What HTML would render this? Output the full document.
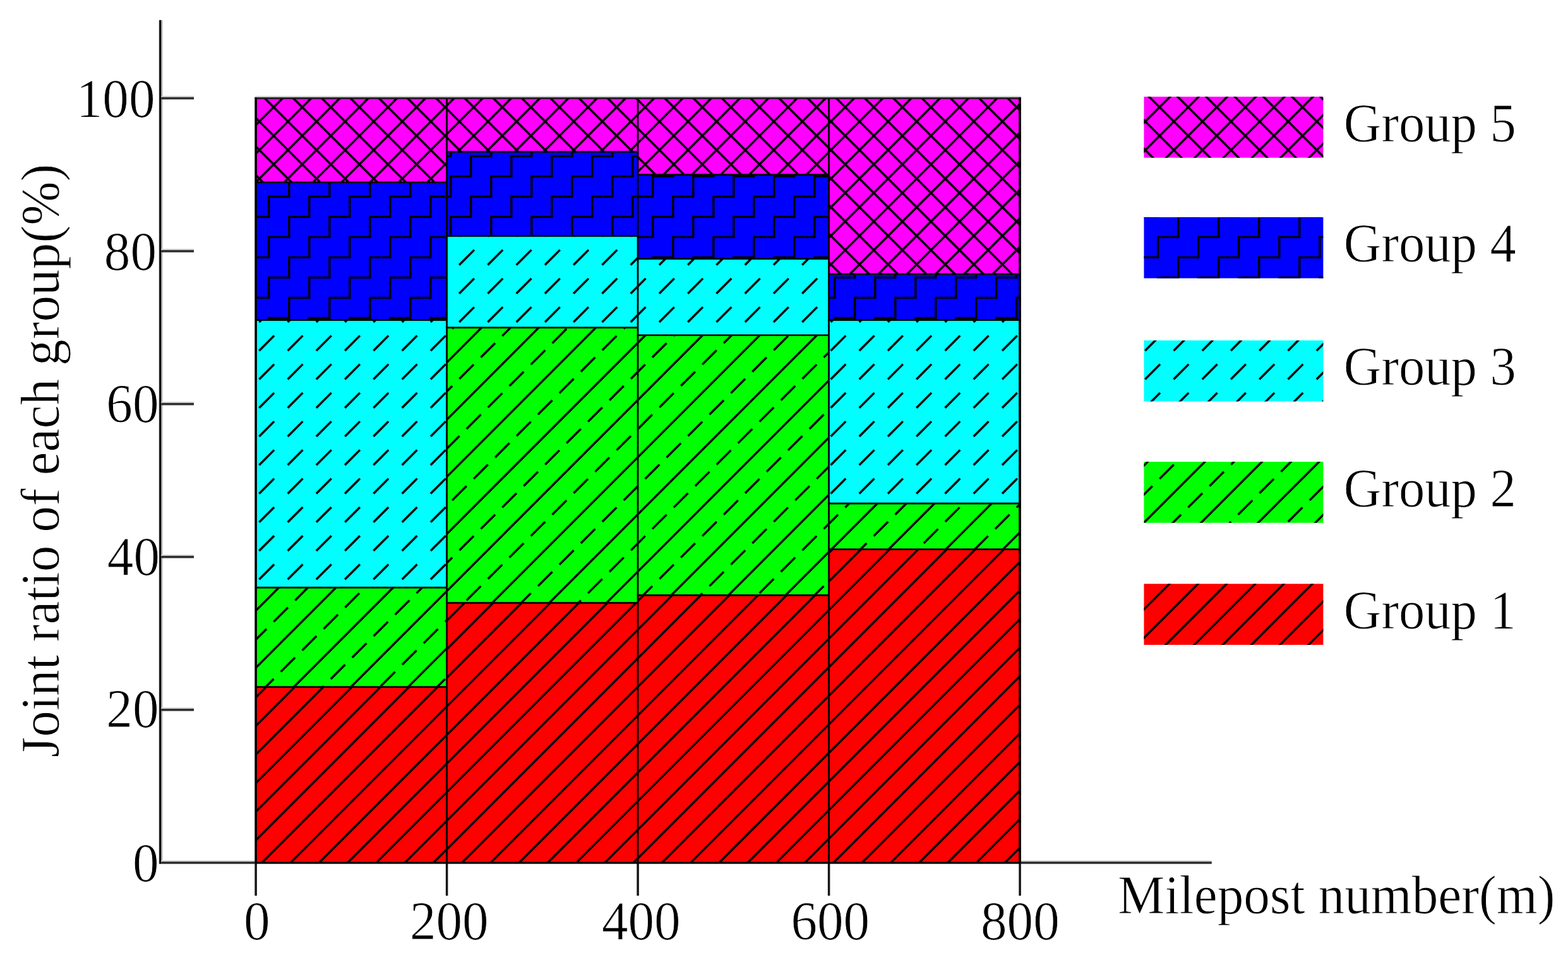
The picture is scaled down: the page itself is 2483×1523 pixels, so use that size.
<!DOCTYPE html>
<html lang="en">
<head>
<meta charset="utf-8">
<title>Joint ratio of each group</title>
<style>
html,body{margin:0;padding:0;background:#fff;}
body{width:2483px;height:1523px;overflow:hidden;}
svg{display:block;filter:blur(0.55px);}
text{font-family:"Liberation Serif", "DejaVu Serif", serif;stroke:#fff;stroke-width:0.9px;stroke-linejoin:round;}
</style>
</head>
<body>
<svg xmlns="http://www.w3.org/2000/svg" width="2483" height="1523" viewBox="0 0 2483 1523" font-family='"Liberation Serif", "DejaVu Serif", serif' fill="#000">
<rect width="2483" height="1523" fill="#fff"/>
<rect x="251.1" y="31.8" width="1.3" height="1335.9" fill="#d8d8d8"/>
<rect x="252.2" y="31.8" width="3.0" height="1335.9" fill="#000"/>
<rect x="255.2" y="31.8" width="2.0" height="1332.3" fill="#999"/>
<rect x="255.2" y="1362.1" width="1663.6" height="2" fill="#d2d2d2"/><rect x="255.2" y="1364.1" width="1663.6" height="3.6" fill="#2e2e2e"/>
<rect x="255.2" y="1120.04" width="51.8" height="2" fill="#d2d2d2"/><rect x="255.2" y="1122.04" width="51.8" height="3.6" fill="#2e2e2e"/>
<rect x="255.2" y="877.98" width="51.8" height="2" fill="#d2d2d2"/><rect x="255.2" y="879.98" width="51.8" height="3.6" fill="#2e2e2e"/>
<rect x="255.2" y="635.92" width="51.8" height="2" fill="#d2d2d2"/><rect x="255.2" y="637.92" width="51.8" height="3.6" fill="#2e2e2e"/>
<rect x="255.2" y="393.86" width="51.8" height="2" fill="#d2d2d2"/><rect x="255.2" y="395.86" width="51.8" height="3.6" fill="#2e2e2e"/>
<rect x="255.2" y="151.8" width="51.8" height="2" fill="#d2d2d2"/><rect x="255.2" y="153.8" width="51.8" height="3.6" fill="#2e2e2e"/>
<rect x="403.35" y="1366.8" width="3.5" height="51.2" fill="#151515"/>
<rect x="705.85" y="1366.8" width="3.5" height="51.2" fill="#151515"/>
<rect x="1008.35" y="1366.8" width="3.5" height="51.2" fill="#151515"/>
<rect x="1310.85" y="1366.8" width="3.5" height="51.2" fill="#151515"/>
<rect x="1613.35" y="1366.8" width="3.5" height="51.2" fill="#151515"/>
<clipPath id="c1"><rect x="405.1" y="1087.43" width="302.5" height="278.37"/></clipPath>
<rect x="405.1" y="1087.43" width="302.5" height="278.37" fill="#ff0000"/>
<g clip-path="url(#c1)" stroke="#000" stroke-width="3.4" fill="none">
<line x1="385.1" y1="1033.44" x2="727.6" y2="690.94"/>
<line x1="385.1" y1="1078.7" x2="727.6" y2="736.2"/>
<line x1="385.1" y1="1123.95" x2="727.6" y2="781.45"/>
<line x1="385.1" y1="1169.21" x2="727.6" y2="826.71"/>
<line x1="385.1" y1="1214.46" x2="727.6" y2="871.96"/>
<line x1="385.1" y1="1259.72" x2="727.6" y2="917.22"/>
<line x1="385.1" y1="1304.97" x2="727.6" y2="962.47"/>
<line x1="385.1" y1="1350.23" x2="727.6" y2="1007.73"/>
<line x1="385.1" y1="1395.48" x2="727.6" y2="1052.98"/>
<line x1="385.1" y1="1440.74" x2="727.6" y2="1098.24"/>
<line x1="385.1" y1="1485.99" x2="727.6" y2="1143.49"/>
<line x1="385.1" y1="1531.25" x2="727.6" y2="1188.75"/>
<line x1="385.1" y1="1576.5" x2="727.6" y2="1234"/>
<line x1="385.1" y1="1621.75" x2="727.6" y2="1279.25"/>
<line x1="385.1" y1="1667.01" x2="727.6" y2="1324.51"/>
<line x1="385.1" y1="1712.26" x2="727.6" y2="1369.76"/>
<line x1="385.1" y1="1757.52" x2="727.6" y2="1415.02"/>
</g>
<rect x="405.1" y="1087.43" width="302.5" height="278.37" fill="none" stroke="#000" stroke-width="2.6"/>
<clipPath id="c2"><rect x="405.1" y="930.09" width="302.5" height="157.34"/></clipPath>
<rect x="405.1" y="930.09" width="302.5" height="157.34" fill="#00ff00"/>
<g clip-path="url(#c2)" stroke="#000" stroke-width="3.4" fill="none">
<line x1="385.1" y1="805.68" x2="727.6" y2="463.18"/>
<line x1="385.1" y1="896.19" x2="727.6" y2="553.69"/>
<line x1="385.1" y1="986.7" x2="727.6" y2="644.2"/>
<line x1="385.1" y1="1077.21" x2="727.6" y2="734.71"/>
<line x1="385.1" y1="1167.72" x2="727.6" y2="825.22"/>
<line x1="385.1" y1="1258.23" x2="727.6" y2="915.73"/>
<line x1="385.1" y1="1348.74" x2="727.6" y2="1006.24"/>
<line x1="385.1" y1="1439.25" x2="727.6" y2="1096.75"/>
<line x1="385.1" y1="1529.76" x2="727.6" y2="1187.26"/>
<line x1="385.1" y1="851.64" x2="727.6" y2="509.14" stroke-dasharray="32 16" stroke-dashoffset="11.79"/>
<line x1="385.1" y1="942.15" x2="727.6" y2="599.65" stroke-dasharray="32 16" stroke-dashoffset="43.79"/>
<line x1="385.1" y1="1032.65" x2="727.6" y2="690.15" stroke-dasharray="32 16" stroke-dashoffset="27.79"/>
<line x1="385.1" y1="1123.16" x2="727.6" y2="780.66" stroke-dasharray="32 16" stroke-dashoffset="11.79"/>
<line x1="385.1" y1="1213.67" x2="727.6" y2="871.17" stroke-dasharray="32 16" stroke-dashoffset="43.79"/>
<line x1="385.1" y1="1304.18" x2="727.6" y2="961.68" stroke-dasharray="32 16" stroke-dashoffset="27.79"/>
<line x1="385.1" y1="1394.69" x2="727.6" y2="1052.19" stroke-dasharray="32 16" stroke-dashoffset="11.79"/>
<line x1="385.1" y1="1485.2" x2="727.6" y2="1142.7" stroke-dasharray="32 16" stroke-dashoffset="43.79"/>
<line x1="385.1" y1="1575.71" x2="727.6" y2="1233.21" stroke-dasharray="32 16" stroke-dashoffset="27.79"/>
</g>
<rect x="405.1" y="930.09" width="302.5" height="157.34" fill="none" stroke="#000" stroke-width="2.6"/>
<clipPath id="c3"><rect x="405.1" y="506.49" width="302.5" height="423.61"/></clipPath>
<rect x="405.1" y="506.49" width="302.5" height="423.61" fill="#00ffff"/>
<g clip-path="url(#c3)" stroke="#000" stroke-width="3.4" fill="none">
<path d="M319.89 419.44l23.8 -23.8M319.89 464.69l23.8 -23.8M319.89 509.95l23.8 -23.8M319.89 555.2l23.8 -23.8M319.89 600.45l23.8 -23.8M319.89 645.71l23.8 -23.8M319.89 690.96l23.8 -23.8M319.89 736.22l23.8 -23.8M319.89 781.47l23.8 -23.8M319.89 826.73l23.8 -23.8M319.89 871.98l23.8 -23.8M319.89 917.24l23.8 -23.8M319.89 962.49l23.8 -23.8M319.89 1007.75l23.8 -23.8M365.15 419.44l23.8 -23.8M365.15 464.69l23.8 -23.8M365.15 509.95l23.8 -23.8M365.15 555.2l23.8 -23.8M365.15 600.45l23.8 -23.8M365.15 645.71l23.8 -23.8M365.15 690.96l23.8 -23.8M365.15 736.22l23.8 -23.8M365.15 781.47l23.8 -23.8M365.15 826.73l23.8 -23.8M365.15 871.98l23.8 -23.8M365.15 917.24l23.8 -23.8M365.15 962.49l23.8 -23.8M365.15 1007.75l23.8 -23.8M410.4 419.44l23.8 -23.8M410.4 464.69l23.8 -23.8M410.4 509.95l23.8 -23.8M410.4 555.2l23.8 -23.8M410.4 600.45l23.8 -23.8M410.4 645.71l23.8 -23.8M410.4 690.96l23.8 -23.8M410.4 736.22l23.8 -23.8M410.4 781.47l23.8 -23.8M410.4 826.73l23.8 -23.8M410.4 871.98l23.8 -23.8M410.4 917.24l23.8 -23.8M410.4 962.49l23.8 -23.8M410.4 1007.75l23.8 -23.8M455.65 419.44l23.8 -23.8M455.65 464.69l23.8 -23.8M455.65 509.95l23.8 -23.8M455.65 555.2l23.8 -23.8M455.65 600.45l23.8 -23.8M455.65 645.71l23.8 -23.8M455.65 690.96l23.8 -23.8M455.65 736.22l23.8 -23.8M455.65 781.47l23.8 -23.8M455.65 826.73l23.8 -23.8M455.65 871.98l23.8 -23.8M455.65 917.24l23.8 -23.8M455.65 962.49l23.8 -23.8M455.65 1007.75l23.8 -23.8M500.91 419.44l23.8 -23.8M500.91 464.69l23.8 -23.8M500.91 509.95l23.8 -23.8M500.91 555.2l23.8 -23.8M500.91 600.45l23.8 -23.8M500.91 645.71l23.8 -23.8M500.91 690.96l23.8 -23.8M500.91 736.22l23.8 -23.8M500.91 781.47l23.8 -23.8M500.91 826.73l23.8 -23.8M500.91 871.98l23.8 -23.8M500.91 917.24l23.8 -23.8M500.91 962.49l23.8 -23.8M500.91 1007.75l23.8 -23.8M546.16 419.44l23.8 -23.8M546.16 464.69l23.8 -23.8M546.16 509.95l23.8 -23.8M546.16 555.2l23.8 -23.8M546.16 600.45l23.8 -23.8M546.16 645.71l23.8 -23.8M546.16 690.96l23.8 -23.8M546.16 736.22l23.8 -23.8M546.16 781.47l23.8 -23.8M546.16 826.73l23.8 -23.8M546.16 871.98l23.8 -23.8M546.16 917.24l23.8 -23.8M546.16 962.49l23.8 -23.8M546.16 1007.75l23.8 -23.8M591.42 419.44l23.8 -23.8M591.42 464.69l23.8 -23.8M591.42 509.95l23.8 -23.8M591.42 555.2l23.8 -23.8M591.42 600.45l23.8 -23.8M591.42 645.71l23.8 -23.8M591.42 690.96l23.8 -23.8M591.42 736.22l23.8 -23.8M591.42 781.47l23.8 -23.8M591.42 826.73l23.8 -23.8M591.42 871.98l23.8 -23.8M591.42 917.24l23.8 -23.8M591.42 962.49l23.8 -23.8M591.42 1007.75l23.8 -23.8M636.67 419.44l23.8 -23.8M636.67 464.69l23.8 -23.8M636.67 509.95l23.8 -23.8M636.67 555.2l23.8 -23.8M636.67 600.45l23.8 -23.8M636.67 645.71l23.8 -23.8M636.67 690.96l23.8 -23.8M636.67 736.22l23.8 -23.8M636.67 781.47l23.8 -23.8M636.67 826.73l23.8 -23.8M636.67 871.98l23.8 -23.8M636.67 917.24l23.8 -23.8M636.67 962.49l23.8 -23.8M636.67 1007.75l23.8 -23.8M681.93 419.44l23.8 -23.8M681.93 464.69l23.8 -23.8M681.93 509.95l23.8 -23.8M681.93 555.2l23.8 -23.8M681.93 600.45l23.8 -23.8M681.93 645.71l23.8 -23.8M681.93 690.96l23.8 -23.8M681.93 736.22l23.8 -23.8M681.93 781.47l23.8 -23.8M681.93 826.73l23.8 -23.8M681.93 871.98l23.8 -23.8M681.93 917.24l23.8 -23.8M681.93 962.49l23.8 -23.8M681.93 1007.75l23.8 -23.8M727.18 419.44l23.8 -23.8M727.18 464.69l23.8 -23.8M727.18 509.95l23.8 -23.8M727.18 555.2l23.8 -23.8M727.18 600.45l23.8 -23.8M727.18 645.71l23.8 -23.8M727.18 690.96l23.8 -23.8M727.18 736.22l23.8 -23.8M727.18 781.47l23.8 -23.8M727.18 826.73l23.8 -23.8M727.18 871.98l23.8 -23.8M727.18 917.24l23.8 -23.8M727.18 962.49l23.8 -23.8M727.18 1007.75l23.8 -23.8M772.44 419.44l23.8 -23.8M772.44 464.69l23.8 -23.8M772.44 509.95l23.8 -23.8M772.44 555.2l23.8 -23.8M772.44 600.45l23.8 -23.8M772.44 645.71l23.8 -23.8M772.44 690.96l23.8 -23.8M772.44 736.22l23.8 -23.8M772.44 781.47l23.8 -23.8M772.44 826.73l23.8 -23.8M772.44 871.98l23.8 -23.8M772.44 917.24l23.8 -23.8M772.44 962.49l23.8 -23.8M772.44 1007.75l23.8 -23.8"/>
</g>
<rect x="405.1" y="506.49" width="302.5" height="423.61" fill="none" stroke="#000" stroke-width="2.6"/>
<clipPath id="c4"><rect x="405.1" y="288.63" width="302.5" height="217.85"/></clipPath>
<rect x="405.1" y="288.63" width="302.5" height="217.85" fill="#0000ff"/>
<g clip-path="url(#c4)" stroke="#000" stroke-width="3.4" fill="none">
<path d="M297.8 215.4v-32h32M329.8 247.4v-32h32M297.8 279.4v-32h32M329.8 311.4v-32h32M297.8 343.4v-32h32M329.8 375.4v-32h32M297.8 407.4v-32h32M329.8 439.4v-32h32M297.8 471.4v-32h32M329.8 503.4v-32h32M297.8 535.4v-32h32M329.8 567.4v-32h32M297.8 599.4v-32h32M329.8 631.4v-32h32M297.8 663.4v-32h32M329.8 695.4v-32h32M361.8 215.4v-32h32M393.8 247.4v-32h32M361.8 279.4v-32h32M393.8 311.4v-32h32M361.8 343.4v-32h32M393.8 375.4v-32h32M361.8 407.4v-32h32M393.8 439.4v-32h32M361.8 471.4v-32h32M393.8 503.4v-32h32M361.8 535.4v-32h32M393.8 567.4v-32h32M361.8 599.4v-32h32M393.8 631.4v-32h32M361.8 663.4v-32h32M393.8 695.4v-32h32M425.8 215.4v-32h32M457.8 247.4v-32h32M425.8 279.4v-32h32M457.8 311.4v-32h32M425.8 343.4v-32h32M457.8 375.4v-32h32M425.8 407.4v-32h32M457.8 439.4v-32h32M425.8 471.4v-32h32M457.8 503.4v-32h32M425.8 535.4v-32h32M457.8 567.4v-32h32M425.8 599.4v-32h32M457.8 631.4v-32h32M425.8 663.4v-32h32M457.8 695.4v-32h32M489.8 215.4v-32h32M521.8 247.4v-32h32M489.8 279.4v-32h32M521.8 311.4v-32h32M489.8 343.4v-32h32M521.8 375.4v-32h32M489.8 407.4v-32h32M521.8 439.4v-32h32M489.8 471.4v-32h32M521.8 503.4v-32h32M489.8 535.4v-32h32M521.8 567.4v-32h32M489.8 599.4v-32h32M521.8 631.4v-32h32M489.8 663.4v-32h32M521.8 695.4v-32h32M553.8 215.4v-32h32M585.8 247.4v-32h32M553.8 279.4v-32h32M585.8 311.4v-32h32M553.8 343.4v-32h32M585.8 375.4v-32h32M553.8 407.4v-32h32M585.8 439.4v-32h32M553.8 471.4v-32h32M585.8 503.4v-32h32M553.8 535.4v-32h32M585.8 567.4v-32h32M553.8 599.4v-32h32M585.8 631.4v-32h32M553.8 663.4v-32h32M585.8 695.4v-32h32M617.8 215.4v-32h32M649.8 247.4v-32h32M617.8 279.4v-32h32M649.8 311.4v-32h32M617.8 343.4v-32h32M649.8 375.4v-32h32M617.8 407.4v-32h32M649.8 439.4v-32h32M617.8 471.4v-32h32M649.8 503.4v-32h32M617.8 535.4v-32h32M649.8 567.4v-32h32M617.8 599.4v-32h32M649.8 631.4v-32h32M617.8 663.4v-32h32M649.8 695.4v-32h32M681.8 215.4v-32h32M713.8 247.4v-32h32M681.8 279.4v-32h32M713.8 311.4v-32h32M681.8 343.4v-32h32M713.8 375.4v-32h32M681.8 407.4v-32h32M713.8 439.4v-32h32M681.8 471.4v-32h32M713.8 503.4v-32h32M681.8 535.4v-32h32M713.8 567.4v-32h32M681.8 599.4v-32h32M713.8 631.4v-32h32M681.8 663.4v-32h32M713.8 695.4v-32h32M745.8 215.4v-32h32M777.8 247.4v-32h32M745.8 279.4v-32h32M777.8 311.4v-32h32M745.8 343.4v-32h32M777.8 375.4v-32h32M745.8 407.4v-32h32M777.8 439.4v-32h32M745.8 471.4v-32h32M777.8 503.4v-32h32M745.8 535.4v-32h32M777.8 567.4v-32h32M745.8 599.4v-32h32M777.8 631.4v-32h32M745.8 663.4v-32h32M777.8 695.4v-32h32M809.8 215.4v-32h32M841.8 247.4v-32h32M809.8 279.4v-32h32M841.8 311.4v-32h32M809.8 343.4v-32h32M841.8 375.4v-32h32M809.8 407.4v-32h32M841.8 439.4v-32h32M809.8 471.4v-32h32M841.8 503.4v-32h32M809.8 535.4v-32h32M841.8 567.4v-32h32M809.8 599.4v-32h32M841.8 631.4v-32h32M809.8 663.4v-32h32M841.8 695.4v-32h32" stroke-linejoin="miter" stroke-linecap="square"/>
</g>
<rect x="405.1" y="288.63" width="302.5" height="217.85" fill="none" stroke="#000" stroke-width="2.6"/>
<clipPath id="c5"><rect x="405.1" y="155.5" width="302.5" height="133.13"/></clipPath>
<rect x="405.1" y="155.5" width="302.5" height="133.13" fill="#ff00ff"/>
<g clip-path="url(#c5)" stroke="#000" stroke-width="3.4" fill="none">
<line x1="385.1" y1="127.49" x2="727.6" y2="-215.01"/>
<line x1="385.1" y1="172.75" x2="727.6" y2="-169.75"/>
<line x1="385.1" y1="218" x2="727.6" y2="-124.5"/>
<line x1="385.1" y1="263.25" x2="727.6" y2="-79.25"/>
<line x1="385.1" y1="308.51" x2="727.6" y2="-33.99"/>
<line x1="385.1" y1="353.76" x2="727.6" y2="11.26"/>
<line x1="385.1" y1="399.02" x2="727.6" y2="56.52"/>
<line x1="385.1" y1="444.27" x2="727.6" y2="101.77"/>
<line x1="385.1" y1="489.53" x2="727.6" y2="147.03"/>
<line x1="385.1" y1="534.78" x2="727.6" y2="192.28"/>
<line x1="385.1" y1="580.04" x2="727.6" y2="237.54"/>
<line x1="385.1" y1="625.29" x2="727.6" y2="282.79"/>
<line x1="385.1" y1="670.55" x2="727.6" y2="328.05"/>
<line x1="385.1" y1="347.72" x2="727.6" y2="690.22"/>
<line x1="385.1" y1="302.47" x2="727.6" y2="644.97"/>
<line x1="385.1" y1="257.21" x2="727.6" y2="599.71"/>
<line x1="385.1" y1="211.96" x2="727.6" y2="554.46"/>
<line x1="385.1" y1="166.7" x2="727.6" y2="509.2"/>
<line x1="385.1" y1="121.45" x2="727.6" y2="463.95"/>
<line x1="385.1" y1="76.2" x2="727.6" y2="418.7"/>
<line x1="385.1" y1="30.94" x2="727.6" y2="373.44"/>
<line x1="385.1" y1="-14.31" x2="727.6" y2="328.19"/>
<line x1="385.1" y1="-59.57" x2="727.6" y2="282.93"/>
<line x1="385.1" y1="-104.82" x2="727.6" y2="237.68"/>
<line x1="385.1" y1="-150.08" x2="727.6" y2="192.42"/>
<line x1="385.1" y1="-195.33" x2="727.6" y2="147.17"/>
<line x1="385.1" y1="-240.59" x2="727.6" y2="101.91"/>
</g>
<rect x="405.1" y="155.5" width="302.5" height="133.13" fill="none" stroke="#000" stroke-width="2.6"/>
<clipPath id="c6"><rect x="707.6" y="954.3" width="302.5" height="411.5"/></clipPath>
<rect x="707.6" y="954.3" width="302.5" height="411.5" fill="#ff0000"/>
<g clip-path="url(#c6)" stroke="#000" stroke-width="3.4" fill="none">
<line x1="687.6" y1="911.96" x2="1030.1" y2="569.46"/>
<line x1="687.6" y1="957.22" x2="1030.1" y2="614.72"/>
<line x1="687.6" y1="1002.47" x2="1030.1" y2="659.97"/>
<line x1="687.6" y1="1047.73" x2="1030.1" y2="705.23"/>
<line x1="687.6" y1="1092.98" x2="1030.1" y2="750.48"/>
<line x1="687.6" y1="1138.24" x2="1030.1" y2="795.74"/>
<line x1="687.6" y1="1183.49" x2="1030.1" y2="840.99"/>
<line x1="687.6" y1="1228.75" x2="1030.1" y2="886.25"/>
<line x1="687.6" y1="1274" x2="1030.1" y2="931.5"/>
<line x1="687.6" y1="1319.25" x2="1030.1" y2="976.75"/>
<line x1="687.6" y1="1364.51" x2="1030.1" y2="1022.01"/>
<line x1="687.6" y1="1409.76" x2="1030.1" y2="1067.26"/>
<line x1="687.6" y1="1455.02" x2="1030.1" y2="1112.52"/>
<line x1="687.6" y1="1500.27" x2="1030.1" y2="1157.77"/>
<line x1="687.6" y1="1545.53" x2="1030.1" y2="1203.03"/>
<line x1="687.6" y1="1590.78" x2="1030.1" y2="1248.28"/>
<line x1="687.6" y1="1636.04" x2="1030.1" y2="1293.54"/>
<line x1="687.6" y1="1681.29" x2="1030.1" y2="1338.79"/>
<line x1="687.6" y1="1726.55" x2="1030.1" y2="1384.05"/>
<line x1="687.6" y1="1771.8" x2="1030.1" y2="1429.3"/>
</g>
<rect x="707.6" y="954.3" width="302.5" height="411.5" fill="none" stroke="#000" stroke-width="2.6"/>
<clipPath id="c7"><rect x="707.6" y="518.59" width="302.5" height="435.71"/></clipPath>
<rect x="707.6" y="518.59" width="302.5" height="435.71" fill="#00ff00"/>
<g clip-path="url(#c7)" stroke="#000" stroke-width="3.4" fill="none">
<line x1="687.6" y1="412.67" x2="1030.1" y2="70.17"/>
<line x1="687.6" y1="503.18" x2="1030.1" y2="160.68"/>
<line x1="687.6" y1="593.69" x2="1030.1" y2="251.19"/>
<line x1="687.6" y1="684.2" x2="1030.1" y2="341.7"/>
<line x1="687.6" y1="774.71" x2="1030.1" y2="432.21"/>
<line x1="687.6" y1="865.22" x2="1030.1" y2="522.72"/>
<line x1="687.6" y1="955.73" x2="1030.1" y2="613.23"/>
<line x1="687.6" y1="1046.24" x2="1030.1" y2="703.74"/>
<line x1="687.6" y1="1136.75" x2="1030.1" y2="794.25"/>
<line x1="687.6" y1="1227.26" x2="1030.1" y2="884.76"/>
<line x1="687.6" y1="1317.77" x2="1030.1" y2="975.27"/>
<line x1="687.6" y1="1408.28" x2="1030.1" y2="1065.78"/>
<line x1="687.6" y1="368.12" x2="1030.1" y2="25.62" stroke-dasharray="32 16" stroke-dashoffset="39.59"/>
<line x1="687.6" y1="458.63" x2="1030.1" y2="116.13" stroke-dasharray="32 16" stroke-dashoffset="23.59"/>
<line x1="687.6" y1="549.14" x2="1030.1" y2="206.64" stroke-dasharray="32 16" stroke-dashoffset="7.59"/>
<line x1="687.6" y1="639.65" x2="1030.1" y2="297.15" stroke-dasharray="32 16" stroke-dashoffset="39.59"/>
<line x1="687.6" y1="730.15" x2="1030.1" y2="387.65" stroke-dasharray="32 16" stroke-dashoffset="23.59"/>
<line x1="687.6" y1="820.66" x2="1030.1" y2="478.16" stroke-dasharray="32 16" stroke-dashoffset="7.59"/>
<line x1="687.6" y1="911.17" x2="1030.1" y2="568.67" stroke-dasharray="32 16" stroke-dashoffset="39.59"/>
<line x1="687.6" y1="1001.68" x2="1030.1" y2="659.18" stroke-dasharray="32 16" stroke-dashoffset="23.59"/>
<line x1="687.6" y1="1092.19" x2="1030.1" y2="749.69" stroke-dasharray="32 16" stroke-dashoffset="7.59"/>
<line x1="687.6" y1="1182.7" x2="1030.1" y2="840.2" stroke-dasharray="32 16" stroke-dashoffset="39.59"/>
<line x1="687.6" y1="1273.21" x2="1030.1" y2="930.71" stroke-dasharray="32 16" stroke-dashoffset="23.59"/>
<line x1="687.6" y1="1363.72" x2="1030.1" y2="1021.22" stroke-dasharray="32 16" stroke-dashoffset="7.59"/>
<line x1="687.6" y1="1454.23" x2="1030.1" y2="1111.73" stroke-dasharray="32 16" stroke-dashoffset="39.59"/>
</g>
<rect x="707.6" y="518.59" width="302.5" height="435.71" fill="none" stroke="#000" stroke-width="2.6"/>
<clipPath id="c8"><rect x="707.6" y="373.35" width="302.5" height="145.24"/></clipPath>
<rect x="707.6" y="373.35" width="302.5" height="145.24" fill="#00ffff"/>
<g clip-path="url(#c8)" stroke="#000" stroke-width="3.4" fill="none">
<path d="M636.67 283.67l23.8 -23.8M636.67 328.93l23.8 -23.8M636.67 374.18l23.8 -23.8M636.67 419.44l23.8 -23.8M636.67 464.69l23.8 -23.8M636.67 509.95l23.8 -23.8M636.67 555.2l23.8 -23.8M636.67 600.45l23.8 -23.8M681.93 283.67l23.8 -23.8M681.93 328.93l23.8 -23.8M681.93 374.18l23.8 -23.8M681.93 419.44l23.8 -23.8M681.93 464.69l23.8 -23.8M681.93 509.95l23.8 -23.8M681.93 555.2l23.8 -23.8M681.93 600.45l23.8 -23.8M727.18 283.67l23.8 -23.8M727.18 328.93l23.8 -23.8M727.18 374.18l23.8 -23.8M727.18 419.44l23.8 -23.8M727.18 464.69l23.8 -23.8M727.18 509.95l23.8 -23.8M727.18 555.2l23.8 -23.8M727.18 600.45l23.8 -23.8M772.44 283.67l23.8 -23.8M772.44 328.93l23.8 -23.8M772.44 374.18l23.8 -23.8M772.44 419.44l23.8 -23.8M772.44 464.69l23.8 -23.8M772.44 509.95l23.8 -23.8M772.44 555.2l23.8 -23.8M772.44 600.45l23.8 -23.8M817.69 283.67l23.8 -23.8M817.69 328.93l23.8 -23.8M817.69 374.18l23.8 -23.8M817.69 419.44l23.8 -23.8M817.69 464.69l23.8 -23.8M817.69 509.95l23.8 -23.8M817.69 555.2l23.8 -23.8M817.69 600.45l23.8 -23.8M862.95 283.67l23.8 -23.8M862.95 328.93l23.8 -23.8M862.95 374.18l23.8 -23.8M862.95 419.44l23.8 -23.8M862.95 464.69l23.8 -23.8M862.95 509.95l23.8 -23.8M862.95 555.2l23.8 -23.8M862.95 600.45l23.8 -23.8M908.2 283.67l23.8 -23.8M908.2 328.93l23.8 -23.8M908.2 374.18l23.8 -23.8M908.2 419.44l23.8 -23.8M908.2 464.69l23.8 -23.8M908.2 509.95l23.8 -23.8M908.2 555.2l23.8 -23.8M908.2 600.45l23.8 -23.8M953.46 283.67l23.8 -23.8M953.46 328.93l23.8 -23.8M953.46 374.18l23.8 -23.8M953.46 419.44l23.8 -23.8M953.46 464.69l23.8 -23.8M953.46 509.95l23.8 -23.8M953.46 555.2l23.8 -23.8M953.46 600.45l23.8 -23.8M998.71 283.67l23.8 -23.8M998.71 328.93l23.8 -23.8M998.71 374.18l23.8 -23.8M998.71 419.44l23.8 -23.8M998.71 464.69l23.8 -23.8M998.71 509.95l23.8 -23.8M998.71 555.2l23.8 -23.8M998.71 600.45l23.8 -23.8M1043.97 283.67l23.8 -23.8M1043.97 328.93l23.8 -23.8M1043.97 374.18l23.8 -23.8M1043.97 419.44l23.8 -23.8M1043.97 464.69l23.8 -23.8M1043.97 509.95l23.8 -23.8M1043.97 555.2l23.8 -23.8M1043.97 600.45l23.8 -23.8M1089.22 283.67l23.8 -23.8M1089.22 328.93l23.8 -23.8M1089.22 374.18l23.8 -23.8M1089.22 419.44l23.8 -23.8M1089.22 464.69l23.8 -23.8M1089.22 509.95l23.8 -23.8M1089.22 555.2l23.8 -23.8M1089.22 600.45l23.8 -23.8"/>
</g>
<rect x="707.6" y="373.35" width="302.5" height="145.24" fill="none" stroke="#000" stroke-width="2.6"/>
<clipPath id="c9"><rect x="707.6" y="240.22" width="302.5" height="133.13"/></clipPath>
<rect x="707.6" y="240.22" width="302.5" height="133.13" fill="#0000ff"/>
<g clip-path="url(#c9)" stroke="#000" stroke-width="3.4" fill="none">
<path d="M617.8 151.4v-32h32M649.8 183.4v-32h32M617.8 215.4v-32h32M649.8 247.4v-32h32M617.8 279.4v-32h32M649.8 311.4v-32h32M617.8 343.4v-32h32M649.8 375.4v-32h32M617.8 407.4v-32h32M649.8 439.4v-32h32M617.8 471.4v-32h32M649.8 503.4v-32h32M681.8 151.4v-32h32M713.8 183.4v-32h32M681.8 215.4v-32h32M713.8 247.4v-32h32M681.8 279.4v-32h32M713.8 311.4v-32h32M681.8 343.4v-32h32M713.8 375.4v-32h32M681.8 407.4v-32h32M713.8 439.4v-32h32M681.8 471.4v-32h32M713.8 503.4v-32h32M745.8 151.4v-32h32M777.8 183.4v-32h32M745.8 215.4v-32h32M777.8 247.4v-32h32M745.8 279.4v-32h32M777.8 311.4v-32h32M745.8 343.4v-32h32M777.8 375.4v-32h32M745.8 407.4v-32h32M777.8 439.4v-32h32M745.8 471.4v-32h32M777.8 503.4v-32h32M809.8 151.4v-32h32M841.8 183.4v-32h32M809.8 215.4v-32h32M841.8 247.4v-32h32M809.8 279.4v-32h32M841.8 311.4v-32h32M809.8 343.4v-32h32M841.8 375.4v-32h32M809.8 407.4v-32h32M841.8 439.4v-32h32M809.8 471.4v-32h32M841.8 503.4v-32h32M873.8 151.4v-32h32M905.8 183.4v-32h32M873.8 215.4v-32h32M905.8 247.4v-32h32M873.8 279.4v-32h32M905.8 311.4v-32h32M873.8 343.4v-32h32M905.8 375.4v-32h32M873.8 407.4v-32h32M905.8 439.4v-32h32M873.8 471.4v-32h32M905.8 503.4v-32h32M937.8 151.4v-32h32M969.8 183.4v-32h32M937.8 215.4v-32h32M969.8 247.4v-32h32M937.8 279.4v-32h32M969.8 311.4v-32h32M937.8 343.4v-32h32M969.8 375.4v-32h32M937.8 407.4v-32h32M969.8 439.4v-32h32M937.8 471.4v-32h32M969.8 503.4v-32h32M1001.8 151.4v-32h32M1033.8 183.4v-32h32M1001.8 215.4v-32h32M1033.8 247.4v-32h32M1001.8 279.4v-32h32M1033.8 311.4v-32h32M1001.8 343.4v-32h32M1033.8 375.4v-32h32M1001.8 407.4v-32h32M1033.8 439.4v-32h32M1001.8 471.4v-32h32M1033.8 503.4v-32h32M1065.8 151.4v-32h32M1097.8 183.4v-32h32M1065.8 215.4v-32h32M1097.8 247.4v-32h32M1065.8 279.4v-32h32M1097.8 311.4v-32h32M1065.8 343.4v-32h32M1097.8 375.4v-32h32M1065.8 407.4v-32h32M1097.8 439.4v-32h32M1065.8 471.4v-32h32M1097.8 503.4v-32h32M1129.8 151.4v-32h32M1161.8 183.4v-32h32M1129.8 215.4v-32h32M1161.8 247.4v-32h32M1129.8 279.4v-32h32M1161.8 311.4v-32h32M1129.8 343.4v-32h32M1161.8 375.4v-32h32M1129.8 407.4v-32h32M1161.8 439.4v-32h32M1129.8 471.4v-32h32M1161.8 503.4v-32h32" stroke-linejoin="miter" stroke-linecap="square"/>
</g>
<rect x="707.6" y="240.22" width="302.5" height="133.13" fill="none" stroke="#000" stroke-width="2.6"/>
<clipPath id="c10"><rect x="707.6" y="155.5" width="302.5" height="84.72"/></clipPath>
<rect x="707.6" y="155.5" width="302.5" height="84.72" fill="#ff00ff"/>
<g clip-path="url(#c10)" stroke="#000" stroke-width="3.4" fill="none">
<line x1="687.6" y1="96.52" x2="1030.1" y2="-245.98"/>
<line x1="687.6" y1="141.77" x2="1030.1" y2="-200.73"/>
<line x1="687.6" y1="187.03" x2="1030.1" y2="-155.47"/>
<line x1="687.6" y1="232.28" x2="1030.1" y2="-110.22"/>
<line x1="687.6" y1="277.54" x2="1030.1" y2="-64.96"/>
<line x1="687.6" y1="322.79" x2="1030.1" y2="-19.71"/>
<line x1="687.6" y1="368.05" x2="1030.1" y2="25.55"/>
<line x1="687.6" y1="413.3" x2="1030.1" y2="70.8"/>
<line x1="687.6" y1="458.56" x2="1030.1" y2="116.06"/>
<line x1="687.6" y1="503.81" x2="1030.1" y2="161.31"/>
<line x1="687.6" y1="549.07" x2="1030.1" y2="206.57"/>
<line x1="687.6" y1="594.32" x2="1030.1" y2="251.82"/>
<line x1="687.6" y1="639.58" x2="1030.1" y2="297.08"/>
<line x1="687.6" y1="288.19" x2="1030.1" y2="630.69"/>
<line x1="687.6" y1="242.93" x2="1030.1" y2="585.43"/>
<line x1="687.6" y1="197.68" x2="1030.1" y2="540.18"/>
<line x1="687.6" y1="152.42" x2="1030.1" y2="494.92"/>
<line x1="687.6" y1="107.17" x2="1030.1" y2="449.67"/>
<line x1="687.6" y1="61.91" x2="1030.1" y2="404.41"/>
<line x1="687.6" y1="16.66" x2="1030.1" y2="359.16"/>
<line x1="687.6" y1="-28.6" x2="1030.1" y2="313.9"/>
<line x1="687.6" y1="-73.85" x2="1030.1" y2="268.65"/>
<line x1="687.6" y1="-119.11" x2="1030.1" y2="223.39"/>
<line x1="687.6" y1="-164.36" x2="1030.1" y2="178.14"/>
<line x1="687.6" y1="-209.62" x2="1030.1" y2="132.88"/>
<line x1="687.6" y1="-254.87" x2="1030.1" y2="87.63"/>
</g>
<rect x="707.6" y="155.5" width="302.5" height="84.72" fill="none" stroke="#000" stroke-width="2.6"/>
<clipPath id="c11"><rect x="1010.1" y="942.19" width="302.5" height="423.61"/></clipPath>
<rect x="1010.1" y="942.19" width="302.5" height="423.61" fill="#ff0000"/>
<g clip-path="url(#c11)" stroke="#000" stroke-width="3.4" fill="none">
<line x1="990.1" y1="880.99" x2="1332.6" y2="538.49"/>
<line x1="990.1" y1="926.25" x2="1332.6" y2="583.75"/>
<line x1="990.1" y1="971.5" x2="1332.6" y2="629"/>
<line x1="990.1" y1="1016.75" x2="1332.6" y2="674.25"/>
<line x1="990.1" y1="1062.01" x2="1332.6" y2="719.51"/>
<line x1="990.1" y1="1107.26" x2="1332.6" y2="764.76"/>
<line x1="990.1" y1="1152.52" x2="1332.6" y2="810.02"/>
<line x1="990.1" y1="1197.77" x2="1332.6" y2="855.27"/>
<line x1="990.1" y1="1243.03" x2="1332.6" y2="900.53"/>
<line x1="990.1" y1="1288.28" x2="1332.6" y2="945.78"/>
<line x1="990.1" y1="1333.54" x2="1332.6" y2="991.04"/>
<line x1="990.1" y1="1378.79" x2="1332.6" y2="1036.29"/>
<line x1="990.1" y1="1424.05" x2="1332.6" y2="1081.55"/>
<line x1="990.1" y1="1469.3" x2="1332.6" y2="1126.8"/>
<line x1="990.1" y1="1514.56" x2="1332.6" y2="1172.06"/>
<line x1="990.1" y1="1559.81" x2="1332.6" y2="1217.31"/>
<line x1="990.1" y1="1605.07" x2="1332.6" y2="1262.57"/>
<line x1="990.1" y1="1650.32" x2="1332.6" y2="1307.82"/>
<line x1="990.1" y1="1695.58" x2="1332.6" y2="1353.08"/>
<line x1="990.1" y1="1740.83" x2="1332.6" y2="1398.33"/>
</g>
<rect x="1010.1" y="942.19" width="302.5" height="423.61" fill="none" stroke="#000" stroke-width="2.6"/>
<clipPath id="c12"><rect x="1010.1" y="530.69" width="302.5" height="411.5"/></clipPath>
<rect x="1010.1" y="530.69" width="302.5" height="411.5" fill="#00ff00"/>
<g clip-path="url(#c12)" stroke="#000" stroke-width="3.4" fill="none">
<line x1="990.1" y1="381.7" x2="1332.6" y2="39.2"/>
<line x1="990.1" y1="472.21" x2="1332.6" y2="129.71"/>
<line x1="990.1" y1="562.72" x2="1332.6" y2="220.22"/>
<line x1="990.1" y1="653.23" x2="1332.6" y2="310.73"/>
<line x1="990.1" y1="743.74" x2="1332.6" y2="401.24"/>
<line x1="990.1" y1="834.25" x2="1332.6" y2="491.75"/>
<line x1="990.1" y1="924.76" x2="1332.6" y2="582.26"/>
<line x1="990.1" y1="1015.27" x2="1332.6" y2="672.77"/>
<line x1="990.1" y1="1105.78" x2="1332.6" y2="763.28"/>
<line x1="990.1" y1="1196.29" x2="1332.6" y2="853.79"/>
<line x1="990.1" y1="1286.8" x2="1332.6" y2="944.3"/>
<line x1="990.1" y1="1377.31" x2="1332.6" y2="1034.81"/>
<line x1="990.1" y1="427.65" x2="1332.6" y2="85.15" stroke-dasharray="32 16" stroke-dashoffset="19.39"/>
<line x1="990.1" y1="518.16" x2="1332.6" y2="175.66" stroke-dasharray="32 16" stroke-dashoffset="3.39"/>
<line x1="990.1" y1="608.67" x2="1332.6" y2="266.17" stroke-dasharray="32 16" stroke-dashoffset="35.39"/>
<line x1="990.1" y1="699.18" x2="1332.6" y2="356.68" stroke-dasharray="32 16" stroke-dashoffset="19.39"/>
<line x1="990.1" y1="789.69" x2="1332.6" y2="447.19" stroke-dasharray="32 16" stroke-dashoffset="3.39"/>
<line x1="990.1" y1="880.2" x2="1332.6" y2="537.7" stroke-dasharray="32 16" stroke-dashoffset="35.39"/>
<line x1="990.1" y1="970.71" x2="1332.6" y2="628.21" stroke-dasharray="32 16" stroke-dashoffset="19.39"/>
<line x1="990.1" y1="1061.22" x2="1332.6" y2="718.72" stroke-dasharray="32 16" stroke-dashoffset="3.39"/>
<line x1="990.1" y1="1151.73" x2="1332.6" y2="809.23" stroke-dasharray="32 16" stroke-dashoffset="35.39"/>
<line x1="990.1" y1="1242.24" x2="1332.6" y2="899.74" stroke-dasharray="32 16" stroke-dashoffset="19.39"/>
<line x1="990.1" y1="1332.75" x2="1332.6" y2="990.25" stroke-dasharray="32 16" stroke-dashoffset="3.39"/>
<line x1="990.1" y1="1423.26" x2="1332.6" y2="1080.76" stroke-dasharray="32 16" stroke-dashoffset="35.39"/>
</g>
<rect x="1010.1" y="530.69" width="302.5" height="411.5" fill="none" stroke="#000" stroke-width="2.6"/>
<clipPath id="c13"><rect x="1010.1" y="409.66" width="302.5" height="121.03"/></clipPath>
<rect x="1010.1" y="409.66" width="302.5" height="121.03" fill="#00ffff"/>
<g clip-path="url(#c13)" stroke="#000" stroke-width="3.4" fill="none">
<path d="M953.46 328.93l23.8 -23.8M953.46 374.18l23.8 -23.8M953.46 419.44l23.8 -23.8M953.46 464.69l23.8 -23.8M953.46 509.95l23.8 -23.8M953.46 555.2l23.8 -23.8M953.46 600.45l23.8 -23.8M998.71 328.93l23.8 -23.8M998.71 374.18l23.8 -23.8M998.71 419.44l23.8 -23.8M998.71 464.69l23.8 -23.8M998.71 509.95l23.8 -23.8M998.71 555.2l23.8 -23.8M998.71 600.45l23.8 -23.8M1043.97 328.93l23.8 -23.8M1043.97 374.18l23.8 -23.8M1043.97 419.44l23.8 -23.8M1043.97 464.69l23.8 -23.8M1043.97 509.95l23.8 -23.8M1043.97 555.2l23.8 -23.8M1043.97 600.45l23.8 -23.8M1089.22 328.93l23.8 -23.8M1089.22 374.18l23.8 -23.8M1089.22 419.44l23.8 -23.8M1089.22 464.69l23.8 -23.8M1089.22 509.95l23.8 -23.8M1089.22 555.2l23.8 -23.8M1089.22 600.45l23.8 -23.8M1134.48 328.93l23.8 -23.8M1134.48 374.18l23.8 -23.8M1134.48 419.44l23.8 -23.8M1134.48 464.69l23.8 -23.8M1134.48 509.95l23.8 -23.8M1134.48 555.2l23.8 -23.8M1134.48 600.45l23.8 -23.8M1179.73 328.93l23.8 -23.8M1179.73 374.18l23.8 -23.8M1179.73 419.44l23.8 -23.8M1179.73 464.69l23.8 -23.8M1179.73 509.95l23.8 -23.8M1179.73 555.2l23.8 -23.8M1179.73 600.45l23.8 -23.8M1224.99 328.93l23.8 -23.8M1224.99 374.18l23.8 -23.8M1224.99 419.44l23.8 -23.8M1224.99 464.69l23.8 -23.8M1224.99 509.95l23.8 -23.8M1224.99 555.2l23.8 -23.8M1224.99 600.45l23.8 -23.8M1270.24 328.93l23.8 -23.8M1270.24 374.18l23.8 -23.8M1270.24 419.44l23.8 -23.8M1270.24 464.69l23.8 -23.8M1270.24 509.95l23.8 -23.8M1270.24 555.2l23.8 -23.8M1270.24 600.45l23.8 -23.8M1315.5 328.93l23.8 -23.8M1315.5 374.18l23.8 -23.8M1315.5 419.44l23.8 -23.8M1315.5 464.69l23.8 -23.8M1315.5 509.95l23.8 -23.8M1315.5 555.2l23.8 -23.8M1315.5 600.45l23.8 -23.8M1360.75 328.93l23.8 -23.8M1360.75 374.18l23.8 -23.8M1360.75 419.44l23.8 -23.8M1360.75 464.69l23.8 -23.8M1360.75 509.95l23.8 -23.8M1360.75 555.2l23.8 -23.8M1360.75 600.45l23.8 -23.8"/>
</g>
<rect x="1010.1" y="409.66" width="302.5" height="121.03" fill="none" stroke="#000" stroke-width="2.6"/>
<clipPath id="c14"><rect x="1010.1" y="276.53" width="302.5" height="133.13"/></clipPath>
<rect x="1010.1" y="276.53" width="302.5" height="133.13" fill="#0000ff"/>
<g clip-path="url(#c14)" stroke="#000" stroke-width="3.4" fill="none">
<path d="M937.8 215.4v-32h32M969.8 247.4v-32h32M937.8 279.4v-32h32M969.8 311.4v-32h32M937.8 343.4v-32h32M969.8 375.4v-32h32M937.8 407.4v-32h32M969.8 439.4v-32h32M937.8 471.4v-32h32M969.8 503.4v-32h32M937.8 535.4v-32h32M969.8 567.4v-32h32M1001.8 215.4v-32h32M1033.8 247.4v-32h32M1001.8 279.4v-32h32M1033.8 311.4v-32h32M1001.8 343.4v-32h32M1033.8 375.4v-32h32M1001.8 407.4v-32h32M1033.8 439.4v-32h32M1001.8 471.4v-32h32M1033.8 503.4v-32h32M1001.8 535.4v-32h32M1033.8 567.4v-32h32M1065.8 215.4v-32h32M1097.8 247.4v-32h32M1065.8 279.4v-32h32M1097.8 311.4v-32h32M1065.8 343.4v-32h32M1097.8 375.4v-32h32M1065.8 407.4v-32h32M1097.8 439.4v-32h32M1065.8 471.4v-32h32M1097.8 503.4v-32h32M1065.8 535.4v-32h32M1097.8 567.4v-32h32M1129.8 215.4v-32h32M1161.8 247.4v-32h32M1129.8 279.4v-32h32M1161.8 311.4v-32h32M1129.8 343.4v-32h32M1161.8 375.4v-32h32M1129.8 407.4v-32h32M1161.8 439.4v-32h32M1129.8 471.4v-32h32M1161.8 503.4v-32h32M1129.8 535.4v-32h32M1161.8 567.4v-32h32M1193.8 215.4v-32h32M1225.8 247.4v-32h32M1193.8 279.4v-32h32M1225.8 311.4v-32h32M1193.8 343.4v-32h32M1225.8 375.4v-32h32M1193.8 407.4v-32h32M1225.8 439.4v-32h32M1193.8 471.4v-32h32M1225.8 503.4v-32h32M1193.8 535.4v-32h32M1225.8 567.4v-32h32M1257.8 215.4v-32h32M1289.8 247.4v-32h32M1257.8 279.4v-32h32M1289.8 311.4v-32h32M1257.8 343.4v-32h32M1289.8 375.4v-32h32M1257.8 407.4v-32h32M1289.8 439.4v-32h32M1257.8 471.4v-32h32M1289.8 503.4v-32h32M1257.8 535.4v-32h32M1289.8 567.4v-32h32M1321.8 215.4v-32h32M1353.8 247.4v-32h32M1321.8 279.4v-32h32M1353.8 311.4v-32h32M1321.8 343.4v-32h32M1353.8 375.4v-32h32M1321.8 407.4v-32h32M1353.8 439.4v-32h32M1321.8 471.4v-32h32M1353.8 503.4v-32h32M1321.8 535.4v-32h32M1353.8 567.4v-32h32M1385.8 215.4v-32h32M1417.8 247.4v-32h32M1385.8 279.4v-32h32M1417.8 311.4v-32h32M1385.8 343.4v-32h32M1417.8 375.4v-32h32M1385.8 407.4v-32h32M1417.8 439.4v-32h32M1385.8 471.4v-32h32M1417.8 503.4v-32h32M1385.8 535.4v-32h32M1417.8 567.4v-32h32" stroke-linejoin="miter" stroke-linecap="square"/>
</g>
<rect x="1010.1" y="276.53" width="302.5" height="133.13" fill="none" stroke="#000" stroke-width="2.6"/>
<clipPath id="c15"><rect x="1010.1" y="155.5" width="302.5" height="121.03"/></clipPath>
<rect x="1010.1" y="155.5" width="302.5" height="121.03" fill="#ff00ff"/>
<g clip-path="url(#c15)" stroke="#000" stroke-width="3.4" fill="none">
<line x1="990.1" y1="110.8" x2="1332.6" y2="-231.7"/>
<line x1="990.1" y1="156.06" x2="1332.6" y2="-186.44"/>
<line x1="990.1" y1="201.31" x2="1332.6" y2="-141.19"/>
<line x1="990.1" y1="246.57" x2="1332.6" y2="-95.93"/>
<line x1="990.1" y1="291.82" x2="1332.6" y2="-50.68"/>
<line x1="990.1" y1="337.08" x2="1332.6" y2="-5.42"/>
<line x1="990.1" y1="382.33" x2="1332.6" y2="39.83"/>
<line x1="990.1" y1="427.59" x2="1332.6" y2="85.09"/>
<line x1="990.1" y1="472.84" x2="1332.6" y2="130.34"/>
<line x1="990.1" y1="518.1" x2="1332.6" y2="175.6"/>
<line x1="990.1" y1="563.35" x2="1332.6" y2="220.85"/>
<line x1="990.1" y1="608.61" x2="1332.6" y2="266.11"/>
<line x1="990.1" y1="653.86" x2="1332.6" y2="311.36"/>
<line x1="990.1" y1="319.16" x2="1332.6" y2="661.66"/>
<line x1="990.1" y1="273.9" x2="1332.6" y2="616.4"/>
<line x1="990.1" y1="228.65" x2="1332.6" y2="571.15"/>
<line x1="990.1" y1="183.39" x2="1332.6" y2="525.89"/>
<line x1="990.1" y1="138.14" x2="1332.6" y2="480.64"/>
<line x1="990.1" y1="92.88" x2="1332.6" y2="435.38"/>
<line x1="990.1" y1="47.63" x2="1332.6" y2="390.13"/>
<line x1="990.1" y1="2.37" x2="1332.6" y2="344.87"/>
<line x1="990.1" y1="-42.88" x2="1332.6" y2="299.62"/>
<line x1="990.1" y1="-88.14" x2="1332.6" y2="254.36"/>
<line x1="990.1" y1="-133.39" x2="1332.6" y2="209.11"/>
<line x1="990.1" y1="-178.65" x2="1332.6" y2="163.85"/>
<line x1="990.1" y1="-223.9" x2="1332.6" y2="118.6"/>
</g>
<rect x="1010.1" y="155.5" width="302.5" height="121.03" fill="none" stroke="#000" stroke-width="2.6"/>
<clipPath id="c16"><rect x="1312.6" y="869.58" width="302.5" height="496.22"/></clipPath>
<rect x="1312.6" y="869.58" width="302.5" height="496.22" fill="#ff0000"/>
<g clip-path="url(#c16)" stroke="#000" stroke-width="3.4" fill="none">
<line x1="1292.6" y1="804.76" x2="1635.1" y2="462.26"/>
<line x1="1292.6" y1="850.02" x2="1635.1" y2="507.52"/>
<line x1="1292.6" y1="895.27" x2="1635.1" y2="552.77"/>
<line x1="1292.6" y1="940.53" x2="1635.1" y2="598.03"/>
<line x1="1292.6" y1="985.78" x2="1635.1" y2="643.28"/>
<line x1="1292.6" y1="1031.04" x2="1635.1" y2="688.54"/>
<line x1="1292.6" y1="1076.29" x2="1635.1" y2="733.79"/>
<line x1="1292.6" y1="1121.55" x2="1635.1" y2="779.05"/>
<line x1="1292.6" y1="1166.8" x2="1635.1" y2="824.3"/>
<line x1="1292.6" y1="1212.06" x2="1635.1" y2="869.56"/>
<line x1="1292.6" y1="1257.31" x2="1635.1" y2="914.81"/>
<line x1="1292.6" y1="1302.57" x2="1635.1" y2="960.07"/>
<line x1="1292.6" y1="1347.82" x2="1635.1" y2="1005.32"/>
<line x1="1292.6" y1="1393.08" x2="1635.1" y2="1050.58"/>
<line x1="1292.6" y1="1438.33" x2="1635.1" y2="1095.83"/>
<line x1="1292.6" y1="1483.59" x2="1635.1" y2="1141.09"/>
<line x1="1292.6" y1="1528.84" x2="1635.1" y2="1186.34"/>
<line x1="1292.6" y1="1574.1" x2="1635.1" y2="1231.6"/>
<line x1="1292.6" y1="1619.35" x2="1635.1" y2="1276.85"/>
<line x1="1292.6" y1="1664.61" x2="1635.1" y2="1322.11"/>
<line x1="1292.6" y1="1709.86" x2="1635.1" y2="1367.36"/>
<line x1="1292.6" y1="1755.12" x2="1635.1" y2="1412.62"/>
</g>
<rect x="1312.6" y="869.58" width="302.5" height="496.22" fill="none" stroke="#000" stroke-width="2.6"/>
<clipPath id="c17"><rect x="1312.6" y="796.96" width="302.5" height="72.62"/></clipPath>
<rect x="1312.6" y="796.96" width="302.5" height="72.62" fill="#00ff00"/>
<g clip-path="url(#c17)" stroke="#000" stroke-width="3.4" fill="none">
<line x1="1292.6" y1="712.77" x2="1635.1" y2="370.27"/>
<line x1="1292.6" y1="803.28" x2="1635.1" y2="460.78"/>
<line x1="1292.6" y1="893.79" x2="1635.1" y2="551.29"/>
<line x1="1292.6" y1="984.3" x2="1635.1" y2="641.8"/>
<line x1="1292.6" y1="1074.81" x2="1635.1" y2="732.31"/>
<line x1="1292.6" y1="1165.32" x2="1635.1" y2="822.82"/>
<line x1="1292.6" y1="1255.83" x2="1635.1" y2="913.33"/>
<line x1="1292.6" y1="1346.34" x2="1635.1" y2="1003.84"/>
<line x1="1292.6" y1="668.21" x2="1635.1" y2="325.71" stroke-dasharray="32 16" stroke-dashoffset="15.19"/>
<line x1="1292.6" y1="758.72" x2="1635.1" y2="416.22" stroke-dasharray="32 16" stroke-dashoffset="47.19"/>
<line x1="1292.6" y1="849.23" x2="1635.1" y2="506.73" stroke-dasharray="32 16" stroke-dashoffset="31.19"/>
<line x1="1292.6" y1="939.74" x2="1635.1" y2="597.24" stroke-dasharray="32 16" stroke-dashoffset="15.19"/>
<line x1="1292.6" y1="1030.25" x2="1635.1" y2="687.75" stroke-dasharray="32 16" stroke-dashoffset="47.19"/>
<line x1="1292.6" y1="1120.76" x2="1635.1" y2="778.26" stroke-dasharray="32 16" stroke-dashoffset="31.19"/>
<line x1="1292.6" y1="1211.27" x2="1635.1" y2="868.77" stroke-dasharray="32 16" stroke-dashoffset="15.19"/>
<line x1="1292.6" y1="1301.78" x2="1635.1" y2="959.28" stroke-dasharray="32 16" stroke-dashoffset="47.19"/>
</g>
<rect x="1312.6" y="796.96" width="302.5" height="72.62" fill="none" stroke="#000" stroke-width="2.6"/>
<clipPath id="c18"><rect x="1312.6" y="506.49" width="302.5" height="290.47"/></clipPath>
<rect x="1312.6" y="506.49" width="302.5" height="290.47" fill="#00ffff"/>
<g clip-path="url(#c18)" stroke="#000" stroke-width="3.4" fill="none">
<path d="M1224.99 419.44l23.8 -23.8M1224.99 464.69l23.8 -23.8M1224.99 509.95l23.8 -23.8M1224.99 555.2l23.8 -23.8M1224.99 600.45l23.8 -23.8M1224.99 645.71l23.8 -23.8M1224.99 690.96l23.8 -23.8M1224.99 736.22l23.8 -23.8M1224.99 781.47l23.8 -23.8M1224.99 826.73l23.8 -23.8M1224.99 871.98l23.8 -23.8M1270.24 419.44l23.8 -23.8M1270.24 464.69l23.8 -23.8M1270.24 509.95l23.8 -23.8M1270.24 555.2l23.8 -23.8M1270.24 600.45l23.8 -23.8M1270.24 645.71l23.8 -23.8M1270.24 690.96l23.8 -23.8M1270.24 736.22l23.8 -23.8M1270.24 781.47l23.8 -23.8M1270.24 826.73l23.8 -23.8M1270.24 871.98l23.8 -23.8M1315.5 419.44l23.8 -23.8M1315.5 464.69l23.8 -23.8M1315.5 509.95l23.8 -23.8M1315.5 555.2l23.8 -23.8M1315.5 600.45l23.8 -23.8M1315.5 645.71l23.8 -23.8M1315.5 690.96l23.8 -23.8M1315.5 736.22l23.8 -23.8M1315.5 781.47l23.8 -23.8M1315.5 826.73l23.8 -23.8M1315.5 871.98l23.8 -23.8M1360.75 419.44l23.8 -23.8M1360.75 464.69l23.8 -23.8M1360.75 509.95l23.8 -23.8M1360.75 555.2l23.8 -23.8M1360.75 600.45l23.8 -23.8M1360.75 645.71l23.8 -23.8M1360.75 690.96l23.8 -23.8M1360.75 736.22l23.8 -23.8M1360.75 781.47l23.8 -23.8M1360.75 826.73l23.8 -23.8M1360.75 871.98l23.8 -23.8M1406.01 419.44l23.8 -23.8M1406.01 464.69l23.8 -23.8M1406.01 509.95l23.8 -23.8M1406.01 555.2l23.8 -23.8M1406.01 600.45l23.8 -23.8M1406.01 645.71l23.8 -23.8M1406.01 690.96l23.8 -23.8M1406.01 736.22l23.8 -23.8M1406.01 781.47l23.8 -23.8M1406.01 826.73l23.8 -23.8M1406.01 871.98l23.8 -23.8M1451.26 419.44l23.8 -23.8M1451.26 464.69l23.8 -23.8M1451.26 509.95l23.8 -23.8M1451.26 555.2l23.8 -23.8M1451.26 600.45l23.8 -23.8M1451.26 645.71l23.8 -23.8M1451.26 690.96l23.8 -23.8M1451.26 736.22l23.8 -23.8M1451.26 781.47l23.8 -23.8M1451.26 826.73l23.8 -23.8M1451.26 871.98l23.8 -23.8M1496.52 419.44l23.8 -23.8M1496.52 464.69l23.8 -23.8M1496.52 509.95l23.8 -23.8M1496.52 555.2l23.8 -23.8M1496.52 600.45l23.8 -23.8M1496.52 645.71l23.8 -23.8M1496.52 690.96l23.8 -23.8M1496.52 736.22l23.8 -23.8M1496.52 781.47l23.8 -23.8M1496.52 826.73l23.8 -23.8M1496.52 871.98l23.8 -23.8M1541.77 419.44l23.8 -23.8M1541.77 464.69l23.8 -23.8M1541.77 509.95l23.8 -23.8M1541.77 555.2l23.8 -23.8M1541.77 600.45l23.8 -23.8M1541.77 645.71l23.8 -23.8M1541.77 690.96l23.8 -23.8M1541.77 736.22l23.8 -23.8M1541.77 781.47l23.8 -23.8M1541.77 826.73l23.8 -23.8M1541.77 871.98l23.8 -23.8M1587.03 419.44l23.8 -23.8M1587.03 464.69l23.8 -23.8M1587.03 509.95l23.8 -23.8M1587.03 555.2l23.8 -23.8M1587.03 600.45l23.8 -23.8M1587.03 645.71l23.8 -23.8M1587.03 690.96l23.8 -23.8M1587.03 736.22l23.8 -23.8M1587.03 781.47l23.8 -23.8M1587.03 826.73l23.8 -23.8M1587.03 871.98l23.8 -23.8M1632.28 419.44l23.8 -23.8M1632.28 464.69l23.8 -23.8M1632.28 509.95l23.8 -23.8M1632.28 555.2l23.8 -23.8M1632.28 600.45l23.8 -23.8M1632.28 645.71l23.8 -23.8M1632.28 690.96l23.8 -23.8M1632.28 736.22l23.8 -23.8M1632.28 781.47l23.8 -23.8M1632.28 826.73l23.8 -23.8M1632.28 871.98l23.8 -23.8M1677.54 419.44l23.8 -23.8M1677.54 464.69l23.8 -23.8M1677.54 509.95l23.8 -23.8M1677.54 555.2l23.8 -23.8M1677.54 600.45l23.8 -23.8M1677.54 645.71l23.8 -23.8M1677.54 690.96l23.8 -23.8M1677.54 736.22l23.8 -23.8M1677.54 781.47l23.8 -23.8M1677.54 826.73l23.8 -23.8M1677.54 871.98l23.8 -23.8"/>
</g>
<rect x="1312.6" y="506.49" width="302.5" height="290.47" fill="none" stroke="#000" stroke-width="2.6"/>
<clipPath id="c19"><rect x="1312.6" y="433.87" width="302.5" height="72.62"/></clipPath>
<rect x="1312.6" y="433.87" width="302.5" height="72.62" fill="#0000ff"/>
<g clip-path="url(#c19)" stroke="#000" stroke-width="3.4" fill="none">
<path d="M1193.8 343.4v-32h32M1225.8 375.4v-32h32M1193.8 407.4v-32h32M1225.8 439.4v-32h32M1193.8 471.4v-32h32M1225.8 503.4v-32h32M1193.8 535.4v-32h32M1225.8 567.4v-32h32M1193.8 599.4v-32h32M1225.8 631.4v-32h32M1193.8 663.4v-32h32M1225.8 695.4v-32h32M1257.8 343.4v-32h32M1289.8 375.4v-32h32M1257.8 407.4v-32h32M1289.8 439.4v-32h32M1257.8 471.4v-32h32M1289.8 503.4v-32h32M1257.8 535.4v-32h32M1289.8 567.4v-32h32M1257.8 599.4v-32h32M1289.8 631.4v-32h32M1257.8 663.4v-32h32M1289.8 695.4v-32h32M1321.8 343.4v-32h32M1353.8 375.4v-32h32M1321.8 407.4v-32h32M1353.8 439.4v-32h32M1321.8 471.4v-32h32M1353.8 503.4v-32h32M1321.8 535.4v-32h32M1353.8 567.4v-32h32M1321.8 599.4v-32h32M1353.8 631.4v-32h32M1321.8 663.4v-32h32M1353.8 695.4v-32h32M1385.8 343.4v-32h32M1417.8 375.4v-32h32M1385.8 407.4v-32h32M1417.8 439.4v-32h32M1385.8 471.4v-32h32M1417.8 503.4v-32h32M1385.8 535.4v-32h32M1417.8 567.4v-32h32M1385.8 599.4v-32h32M1417.8 631.4v-32h32M1385.8 663.4v-32h32M1417.8 695.4v-32h32M1449.8 343.4v-32h32M1481.8 375.4v-32h32M1449.8 407.4v-32h32M1481.8 439.4v-32h32M1449.8 471.4v-32h32M1481.8 503.4v-32h32M1449.8 535.4v-32h32M1481.8 567.4v-32h32M1449.8 599.4v-32h32M1481.8 631.4v-32h32M1449.8 663.4v-32h32M1481.8 695.4v-32h32M1513.8 343.4v-32h32M1545.8 375.4v-32h32M1513.8 407.4v-32h32M1545.8 439.4v-32h32M1513.8 471.4v-32h32M1545.8 503.4v-32h32M1513.8 535.4v-32h32M1545.8 567.4v-32h32M1513.8 599.4v-32h32M1545.8 631.4v-32h32M1513.8 663.4v-32h32M1545.8 695.4v-32h32M1577.8 343.4v-32h32M1609.8 375.4v-32h32M1577.8 407.4v-32h32M1609.8 439.4v-32h32M1577.8 471.4v-32h32M1609.8 503.4v-32h32M1577.8 535.4v-32h32M1609.8 567.4v-32h32M1577.8 599.4v-32h32M1609.8 631.4v-32h32M1577.8 663.4v-32h32M1609.8 695.4v-32h32M1641.8 343.4v-32h32M1673.8 375.4v-32h32M1641.8 407.4v-32h32M1673.8 439.4v-32h32M1641.8 471.4v-32h32M1673.8 503.4v-32h32M1641.8 535.4v-32h32M1673.8 567.4v-32h32M1641.8 599.4v-32h32M1673.8 631.4v-32h32M1641.8 663.4v-32h32M1673.8 695.4v-32h32M1705.8 343.4v-32h32M1737.8 375.4v-32h32M1705.8 407.4v-32h32M1737.8 439.4v-32h32M1705.8 471.4v-32h32M1737.8 503.4v-32h32M1705.8 535.4v-32h32M1737.8 567.4v-32h32M1705.8 599.4v-32h32M1737.8 631.4v-32h32M1705.8 663.4v-32h32M1737.8 695.4v-32h32" stroke-linejoin="miter" stroke-linecap="square"/>
</g>
<rect x="1312.6" y="433.87" width="302.5" height="72.62" fill="none" stroke="#000" stroke-width="2.6"/>
<clipPath id="c20"><rect x="1312.6" y="155.5" width="302.5" height="278.37"/></clipPath>
<rect x="1312.6" y="155.5" width="302.5" height="278.37" fill="#ff00ff"/>
<g clip-path="url(#c20)" stroke="#000" stroke-width="3.4" fill="none">
<line x1="1292.6" y1="125.09" x2="1635.1" y2="-217.41"/>
<line x1="1292.6" y1="170.34" x2="1635.1" y2="-172.16"/>
<line x1="1292.6" y1="215.6" x2="1635.1" y2="-126.9"/>
<line x1="1292.6" y1="260.85" x2="1635.1" y2="-81.65"/>
<line x1="1292.6" y1="306.11" x2="1635.1" y2="-36.39"/>
<line x1="1292.6" y1="351.36" x2="1635.1" y2="8.86"/>
<line x1="1292.6" y1="396.62" x2="1635.1" y2="54.12"/>
<line x1="1292.6" y1="441.87" x2="1635.1" y2="99.37"/>
<line x1="1292.6" y1="487.13" x2="1635.1" y2="144.63"/>
<line x1="1292.6" y1="532.38" x2="1635.1" y2="189.88"/>
<line x1="1292.6" y1="577.64" x2="1635.1" y2="235.14"/>
<line x1="1292.6" y1="622.89" x2="1635.1" y2="280.39"/>
<line x1="1292.6" y1="668.15" x2="1635.1" y2="325.65"/>
<line x1="1292.6" y1="713.4" x2="1635.1" y2="370.9"/>
<line x1="1292.6" y1="758.65" x2="1635.1" y2="416.15"/>
<line x1="1292.6" y1="803.91" x2="1635.1" y2="461.41"/>
<line x1="1292.6" y1="485.89" x2="1635.1" y2="828.39"/>
<line x1="1292.6" y1="440.64" x2="1635.1" y2="783.14"/>
<line x1="1292.6" y1="395.38" x2="1635.1" y2="737.88"/>
<line x1="1292.6" y1="350.13" x2="1635.1" y2="692.63"/>
<line x1="1292.6" y1="304.87" x2="1635.1" y2="647.37"/>
<line x1="1292.6" y1="259.62" x2="1635.1" y2="602.12"/>
<line x1="1292.6" y1="214.36" x2="1635.1" y2="556.86"/>
<line x1="1292.6" y1="169.11" x2="1635.1" y2="511.61"/>
<line x1="1292.6" y1="123.85" x2="1635.1" y2="466.35"/>
<line x1="1292.6" y1="78.6" x2="1635.1" y2="421.1"/>
<line x1="1292.6" y1="33.34" x2="1635.1" y2="375.84"/>
<line x1="1292.6" y1="-11.91" x2="1635.1" y2="330.59"/>
<line x1="1292.6" y1="-57.17" x2="1635.1" y2="285.33"/>
<line x1="1292.6" y1="-102.42" x2="1635.1" y2="240.08"/>
<line x1="1292.6" y1="-147.68" x2="1635.1" y2="194.82"/>
<line x1="1292.6" y1="-192.93" x2="1635.1" y2="149.57"/>
<line x1="1292.6" y1="-238.19" x2="1635.1" y2="104.31"/>
</g>
<rect x="1312.6" y="155.5" width="302.5" height="278.37" fill="none" stroke="#000" stroke-width="2.6"/>
<rect x="403.9" y="151.9" width="1212.6" height="2.1" fill="#cfcfcf"/>
<rect x="403.5" y="154" width="1213.4" height="2.1" fill="#2d2d2d"/>
<rect x="403.4" y="154" width="3.4" height="1211.8" fill="#000"/>
<rect x="1613.2" y="154" width="3.7" height="1211.8" fill="#000"/>
<text transform="translate(251.5 1394.75) scale(0.956 1)" text-anchor="end" font-size="87">0</text>
<text transform="translate(251.5 1151.25) scale(0.956 1)" text-anchor="end" font-size="87">20</text>
<text transform="translate(253 909.95) scale(0.956 1)" text-anchor="end" font-size="87">40</text>
<text transform="translate(251.5 667.95) scale(0.956 1)" text-anchor="end" font-size="87">60</text>
<text transform="translate(248 426.7) scale(0.956 1)" text-anchor="end" font-size="87">80</text>
<text transform="translate(245.5 184.5) scale(0.956 1)" text-anchor="end" font-size="87">100</text>
<text transform="translate(427.5 1486.5) scale(0.956 1)" text-anchor="end" font-size="87">0</text>
<text transform="translate(773.7 1486.5) scale(0.956 1)" text-anchor="end" font-size="87">200</text>
<text transform="translate(1077.7 1486.5) scale(0.956 1)" text-anchor="end" font-size="87">400</text>
<text transform="translate(1377.2 1486.5) scale(0.956 1)" text-anchor="end" font-size="87">600</text>
<text transform="translate(1677.75 1486.5) scale(0.956 1)" text-anchor="end" font-size="87">800</text>
<text transform="translate(1770.3 1446) scale(0.958 1)" text-anchor="start" font-size="87">Milepost number(m)</text>
<text transform="translate(92.8 729.4) rotate(-90) scale(0.958 1)" text-anchor="middle" font-size="87">Joint ratio of each group(%)</text>
<clipPath id="c21"><rect x="1811.5" y="153.1" width="283.9" height="96.6"/></clipPath>
<rect x="1811.5" y="153.1" width="283.9" height="96.6" fill="#ff00ff"/>
<g clip-path="url(#c21)" stroke="#000" stroke-width="3.4" fill="none">
<line x1="1791.5" y1="123.99" x2="2115.4" y2="-199.91"/>
<line x1="1791.5" y1="169.25" x2="2115.4" y2="-154.65"/>
<line x1="1791.5" y1="214.5" x2="2115.4" y2="-109.4"/>
<line x1="1791.5" y1="259.75" x2="2115.4" y2="-64.15"/>
<line x1="1791.5" y1="305.01" x2="2115.4" y2="-18.89"/>
<line x1="1791.5" y1="350.26" x2="2115.4" y2="26.36"/>
<line x1="1791.5" y1="395.52" x2="2115.4" y2="71.62"/>
<line x1="1791.5" y1="440.77" x2="2115.4" y2="116.87"/>
<line x1="1791.5" y1="486.03" x2="2115.4" y2="162.13"/>
<line x1="1791.5" y1="531.28" x2="2115.4" y2="207.38"/>
<line x1="1791.5" y1="576.54" x2="2115.4" y2="252.64"/>
<line x1="1791.5" y1="621.79" x2="2115.4" y2="297.89"/>
<line x1="1791.5" y1="305.97" x2="2115.4" y2="629.87"/>
<line x1="1791.5" y1="260.71" x2="2115.4" y2="584.61"/>
<line x1="1791.5" y1="215.46" x2="2115.4" y2="539.36"/>
<line x1="1791.5" y1="170.2" x2="2115.4" y2="494.1"/>
<line x1="1791.5" y1="124.95" x2="2115.4" y2="448.85"/>
<line x1="1791.5" y1="79.7" x2="2115.4" y2="403.6"/>
<line x1="1791.5" y1="34.44" x2="2115.4" y2="358.34"/>
<line x1="1791.5" y1="-10.81" x2="2115.4" y2="313.09"/>
<line x1="1791.5" y1="-56.07" x2="2115.4" y2="267.83"/>
<line x1="1791.5" y1="-101.32" x2="2115.4" y2="222.58"/>
<line x1="1791.5" y1="-146.58" x2="2115.4" y2="177.32"/>
<line x1="1791.5" y1="-191.83" x2="2115.4" y2="132.07"/>
<line x1="1791.5" y1="-237.09" x2="2115.4" y2="86.81"/>
</g>
<text transform="translate(2127.7 223.6) scale(0.95 1)" text-anchor="start" font-size="87">Group 5</text>
<clipPath id="c22"><rect x="1811.5" y="343.9" width="283.9" height="96.6"/></clipPath>
<rect x="1811.5" y="343.9" width="283.9" height="96.6" fill="#0000ff"/>
<g clip-path="url(#c22)" stroke="#000" stroke-width="3.4" fill="none">
<path d="M1705.8 279.4v-32h32M1737.8 311.4v-32h32M1705.8 343.4v-32h32M1737.8 375.4v-32h32M1705.8 407.4v-32h32M1737.8 439.4v-32h32M1705.8 471.4v-32h32M1737.8 503.4v-32h32M1705.8 535.4v-32h32M1737.8 567.4v-32h32M1705.8 599.4v-32h32M1737.8 631.4v-32h32M1769.8 279.4v-32h32M1801.8 311.4v-32h32M1769.8 343.4v-32h32M1801.8 375.4v-32h32M1769.8 407.4v-32h32M1801.8 439.4v-32h32M1769.8 471.4v-32h32M1801.8 503.4v-32h32M1769.8 535.4v-32h32M1801.8 567.4v-32h32M1769.8 599.4v-32h32M1801.8 631.4v-32h32M1833.8 279.4v-32h32M1865.8 311.4v-32h32M1833.8 343.4v-32h32M1865.8 375.4v-32h32M1833.8 407.4v-32h32M1865.8 439.4v-32h32M1833.8 471.4v-32h32M1865.8 503.4v-32h32M1833.8 535.4v-32h32M1865.8 567.4v-32h32M1833.8 599.4v-32h32M1865.8 631.4v-32h32M1897.8 279.4v-32h32M1929.8 311.4v-32h32M1897.8 343.4v-32h32M1929.8 375.4v-32h32M1897.8 407.4v-32h32M1929.8 439.4v-32h32M1897.8 471.4v-32h32M1929.8 503.4v-32h32M1897.8 535.4v-32h32M1929.8 567.4v-32h32M1897.8 599.4v-32h32M1929.8 631.4v-32h32M1961.8 279.4v-32h32M1993.8 311.4v-32h32M1961.8 343.4v-32h32M1993.8 375.4v-32h32M1961.8 407.4v-32h32M1993.8 439.4v-32h32M1961.8 471.4v-32h32M1993.8 503.4v-32h32M1961.8 535.4v-32h32M1993.8 567.4v-32h32M1961.8 599.4v-32h32M1993.8 631.4v-32h32M2025.8 279.4v-32h32M2057.8 311.4v-32h32M2025.8 343.4v-32h32M2057.8 375.4v-32h32M2025.8 407.4v-32h32M2057.8 439.4v-32h32M2025.8 471.4v-32h32M2057.8 503.4v-32h32M2025.8 535.4v-32h32M2057.8 567.4v-32h32M2025.8 599.4v-32h32M2057.8 631.4v-32h32M2089.8 279.4v-32h32M2121.8 311.4v-32h32M2089.8 343.4v-32h32M2121.8 375.4v-32h32M2089.8 407.4v-32h32M2121.8 439.4v-32h32M2089.8 471.4v-32h32M2121.8 503.4v-32h32M2089.8 535.4v-32h32M2121.8 567.4v-32h32M2089.8 599.4v-32h32M2121.8 631.4v-32h32M2153.8 279.4v-32h32M2185.8 311.4v-32h32M2153.8 343.4v-32h32M2185.8 375.4v-32h32M2153.8 407.4v-32h32M2185.8 439.4v-32h32M2153.8 471.4v-32h32M2185.8 503.4v-32h32M2153.8 535.4v-32h32M2185.8 567.4v-32h32M2153.8 599.4v-32h32M2185.8 631.4v-32h32M2217.8 279.4v-32h32M2249.8 311.4v-32h32M2217.8 343.4v-32h32M2249.8 375.4v-32h32M2217.8 407.4v-32h32M2249.8 439.4v-32h32M2217.8 471.4v-32h32M2249.8 503.4v-32h32M2217.8 535.4v-32h32M2249.8 567.4v-32h32M2217.8 599.4v-32h32M2249.8 631.4v-32h32" stroke-linejoin="miter" stroke-linecap="square"/>
</g>
<text transform="translate(2127.7 414.4) scale(0.95 1)" text-anchor="start" font-size="87">Group 4</text>
<clipPath id="c23"><rect x="1811.5" y="538.9" width="283.9" height="96.6"/></clipPath>
<rect x="1811.5" y="538.9" width="283.9" height="96.6" fill="#00ffff"/>
<g clip-path="url(#c23)" stroke="#000" stroke-width="3.4" fill="none">
<path d="M1722.79 464.69l23.8 -23.8M1722.79 509.95l23.8 -23.8M1722.79 555.2l23.8 -23.8M1722.79 600.45l23.8 -23.8M1722.79 645.71l23.8 -23.8M1722.79 690.96l23.8 -23.8M1768.05 464.69l23.8 -23.8M1768.05 509.95l23.8 -23.8M1768.05 555.2l23.8 -23.8M1768.05 600.45l23.8 -23.8M1768.05 645.71l23.8 -23.8M1768.05 690.96l23.8 -23.8M1813.3 464.69l23.8 -23.8M1813.3 509.95l23.8 -23.8M1813.3 555.2l23.8 -23.8M1813.3 600.45l23.8 -23.8M1813.3 645.71l23.8 -23.8M1813.3 690.96l23.8 -23.8M1858.55 464.69l23.8 -23.8M1858.55 509.95l23.8 -23.8M1858.55 555.2l23.8 -23.8M1858.55 600.45l23.8 -23.8M1858.55 645.71l23.8 -23.8M1858.55 690.96l23.8 -23.8M1903.81 464.69l23.8 -23.8M1903.81 509.95l23.8 -23.8M1903.81 555.2l23.8 -23.8M1903.81 600.45l23.8 -23.8M1903.81 645.71l23.8 -23.8M1903.81 690.96l23.8 -23.8M1949.06 464.69l23.8 -23.8M1949.06 509.95l23.8 -23.8M1949.06 555.2l23.8 -23.8M1949.06 600.45l23.8 -23.8M1949.06 645.71l23.8 -23.8M1949.06 690.96l23.8 -23.8M1994.32 464.69l23.8 -23.8M1994.32 509.95l23.8 -23.8M1994.32 555.2l23.8 -23.8M1994.32 600.45l23.8 -23.8M1994.32 645.71l23.8 -23.8M1994.32 690.96l23.8 -23.8M2039.57 464.69l23.8 -23.8M2039.57 509.95l23.8 -23.8M2039.57 555.2l23.8 -23.8M2039.57 600.45l23.8 -23.8M2039.57 645.71l23.8 -23.8M2039.57 690.96l23.8 -23.8M2084.83 464.69l23.8 -23.8M2084.83 509.95l23.8 -23.8M2084.83 555.2l23.8 -23.8M2084.83 600.45l23.8 -23.8M2084.83 645.71l23.8 -23.8M2084.83 690.96l23.8 -23.8M2130.08 464.69l23.8 -23.8M2130.08 509.95l23.8 -23.8M2130.08 555.2l23.8 -23.8M2130.08 600.45l23.8 -23.8M2130.08 645.71l23.8 -23.8M2130.08 690.96l23.8 -23.8M2175.34 464.69l23.8 -23.8M2175.34 509.95l23.8 -23.8M2175.34 555.2l23.8 -23.8M2175.34 600.45l23.8 -23.8M2175.34 645.71l23.8 -23.8M2175.34 690.96l23.8 -23.8"/>
</g>
<text transform="translate(2127.7 609.4) scale(0.95 1)" text-anchor="start" font-size="87">Group 3</text>
<clipPath id="c24"><rect x="1811.5" y="731.1" width="283.9" height="96.6"/></clipPath>
<rect x="1811.5" y="731.1" width="283.9" height="96.6" fill="#00ff00"/>
<g clip-path="url(#c24)" stroke="#000" stroke-width="3.4" fill="none">
<line x1="1791.5" y1="575.91" x2="2115.4" y2="252.01"/>
<line x1="1791.5" y1="666.42" x2="2115.4" y2="342.52"/>
<line x1="1791.5" y1="756.93" x2="2115.4" y2="433.03"/>
<line x1="1791.5" y1="847.44" x2="2115.4" y2="523.54"/>
<line x1="1791.5" y1="937.95" x2="2115.4" y2="614.05"/>
<line x1="1791.5" y1="1028.45" x2="2115.4" y2="704.55"/>
<line x1="1791.5" y1="1118.96" x2="2115.4" y2="795.06"/>
<line x1="1791.5" y1="1209.47" x2="2115.4" y2="885.57"/>
<line x1="1791.5" y1="1299.98" x2="2115.4" y2="976.08"/>
<line x1="1791.5" y1="621.86" x2="2115.4" y2="297.96" stroke-dasharray="32 16" stroke-dashoffset="16.74"/>
<line x1="1791.5" y1="712.37" x2="2115.4" y2="388.47" stroke-dasharray="32 16" stroke-dashoffset="0.74"/>
<line x1="1791.5" y1="802.88" x2="2115.4" y2="478.98" stroke-dasharray="32 16" stroke-dashoffset="32.74"/>
<line x1="1791.5" y1="893.39" x2="2115.4" y2="569.49" stroke-dasharray="32 16" stroke-dashoffset="16.74"/>
<line x1="1791.5" y1="983.9" x2="2115.4" y2="660" stroke-dasharray="32 16" stroke-dashoffset="0.74"/>
<line x1="1791.5" y1="1074.41" x2="2115.4" y2="750.51" stroke-dasharray="32 16" stroke-dashoffset="32.74"/>
<line x1="1791.5" y1="1164.92" x2="2115.4" y2="841.02" stroke-dasharray="32 16" stroke-dashoffset="16.74"/>
<line x1="1791.5" y1="1255.43" x2="2115.4" y2="931.53" stroke-dasharray="32 16" stroke-dashoffset="0.74"/>
</g>
<text transform="translate(2127.7 801.6) scale(0.95 1)" text-anchor="start" font-size="87">Group 2</text>
<clipPath id="c25"><rect x="1811.5" y="924.3" width="283.9" height="96.6"/></clipPath>
<rect x="1811.5" y="924.3" width="283.9" height="96.6" fill="#ff0000"/>
<g clip-path="url(#c25)" stroke="#000" stroke-width="3.4" fill="none">
<line x1="1791.5" y1="894.18" x2="2115.4" y2="570.28"/>
<line x1="1791.5" y1="939.43" x2="2115.4" y2="615.53"/>
<line x1="1791.5" y1="984.69" x2="2115.4" y2="660.79"/>
<line x1="1791.5" y1="1029.94" x2="2115.4" y2="706.04"/>
<line x1="1791.5" y1="1075.2" x2="2115.4" y2="751.3"/>
<line x1="1791.5" y1="1120.45" x2="2115.4" y2="796.55"/>
<line x1="1791.5" y1="1165.71" x2="2115.4" y2="841.81"/>
<line x1="1791.5" y1="1210.96" x2="2115.4" y2="887.06"/>
<line x1="1791.5" y1="1256.22" x2="2115.4" y2="932.32"/>
<line x1="1791.5" y1="1301.47" x2="2115.4" y2="977.57"/>
<line x1="1791.5" y1="1346.73" x2="2115.4" y2="1022.83"/>
<line x1="1791.5" y1="1391.98" x2="2115.4" y2="1068.08"/>
</g>
<text transform="translate(2127.7 994.8) scale(0.95 1)" text-anchor="start" font-size="87">Group 1</text>
</svg>
</body>
</html>
